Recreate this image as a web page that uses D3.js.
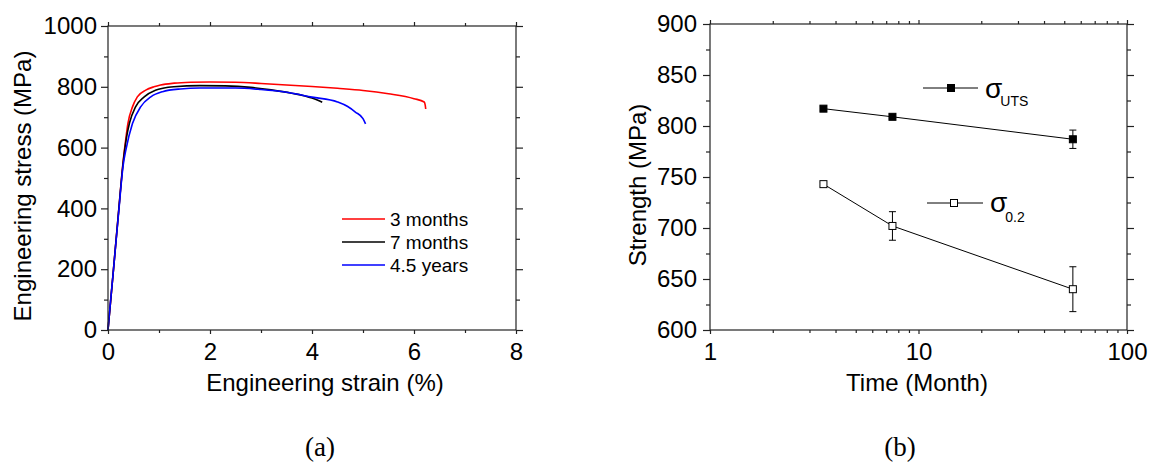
<!DOCTYPE html>
<html>
<head>
<meta charset="utf-8">
<script src="https://cdn.jsdelivr.net/npm/d3@7"></script>
<style>
body { margin: 0; background: #fff; }
text { font-family: "Liberation Sans", Arial, sans-serif; fill: #000; }
</style>
</head>
<body>
<svg id="chart" width="1152" height="470"></svg>
<script>
// (a) stress-strain curves, [strain %, stress MPa]
var curve3Months = [[0, 0], [0.1, 185], [0.2, 375], [0.3, 560], [0.35, 630], [0.39, 679], [0.48, 734],
    [0.575, 767], [0.74, 789], [0.9, 800], [1.03, 806], [1.3, 812], [1.62, 815], [2.0, 816], [2.5, 815],
    [3.0, 811], [3.5, 806], [4.0, 801], [4.5, 795], [5.0, 788], [5.5, 777], [6.0, 761], [6.2, 750],
    [6.22, 740], [6.23, 727]];
var curve7Months = [[0, 0], [0.1, 185], [0.2, 375], [0.3, 555], [0.36, 630], [0.42, 680], [0.54, 734],
    [0.71, 767], [0.93, 789], [1.1, 796], [1.29, 800], [1.8, 804], [2.3, 803], [2.8, 798], [3.2, 790],
    [3.6, 779], [4.0, 763], [4.15, 753], [4.2, 749]];
var curve45Years = [[0, 0], [0.05, 95], [0.1, 185], [0.2, 370], [0.3, 545], [0.35, 592], [0.48, 679],
    [0.64, 734], [0.84, 767], [1.07, 784], [1.42, 793], [1.8, 796], [2.5, 796], [3.0, 791], [3.5, 782],
    [4.0, 766], [4.5, 750], [4.7, 735], [4.85, 717], [5.0, 695], [5.05, 678]];
var curveNames = ["3 months", "7 months", "4.5 years"];
var curveColors = ["#ff0000", "#000000", "#0000ff"];

var strainTicks = [0, 2, 4, 6, 8];
var strainMinor = [1, 3, 5, 7];
var stressTicks = [0, 200, 400, 600, 800, 1000];
var stressMinor = [100, 300, 500, 700, 900];

// (b) strength vs time
var timeMonths = [3.5, 7.5, 55];
var utsValues = [817, 809, 787];
var utsErrors = [2, 2, 9];
var ysValues = [743, 702, 640];
var ysErrors = [2, 14, 22];

var timeTicks = [1, 10, 100];
var timeMinor = [2, 3, 4, 5, 6, 7, 8, 9, 20, 30, 40, 50, 60, 70, 80, 90];
var strengthTicks = [600, 650, 700, 750, 800, 850, 900];
var strengthMinor = [625, 675, 725, 775, 825, 875];

var svg = d3.select("#chart");
var axisColor = "#222";

function drawAxes(g, x, y, xMajor, xMinor, yMajor, yMinor, yGap) {
    var w = x.range()[1] - x.range()[0];
    var h = y.range()[0] - y.range()[1];

    var sides = [
        { axis: d3.axisBottom, scale: x, major: xMajor, minor: xMinor, len: 4, mlen: 3, pos: "translate(0," + h + ")", label: true, pad: 9 },
        { axis: d3.axisTop, scale: x, major: xMajor, minor: xMinor, len: 4, mlen: 3, pos: "translate(0,0)", label: false },
        { axis: d3.axisLeft, scale: y, major: yMajor, minor: yMinor, len: 7, mlen: 4, pos: "translate(0,0)", label: true, pad: yGap - 7 },
        { axis: d3.axisRight, scale: y, major: yMajor, minor: yMinor, len: 7, mlen: 4, pos: "translate(" + w + ",0)", label: false }
    ];

    sides.forEach(function (s) {
        var major = s.axis(s.scale).tickValues(s.major).tickSize(s.len).tickSizeOuter(0);
        if (s.label) {
            major.tickPadding(s.pad).tickFormat(d3.format("d"));
        } else {
            major.tickFormat("");
        }
        var ga = g.append("g").attr("transform", s.pos).call(major);
        ga.select(".domain").remove();
        ga.selectAll("line").attr("stroke", axisColor).attr("stroke-width", 1.2);
        ga.selectAll("text")
            .style("font-family", "'Liberation Sans', Arial, sans-serif")
            .style("font-size", "24px")
            .attr("fill", "#000");

        var minor = s.axis(s.scale).tickValues(s.minor).tickSize(s.mlen).tickSizeOuter(0).tickFormat("");
        var gm = g.append("g").attr("transform", s.pos).call(minor);
        gm.select(".domain").remove();
        gm.selectAll("line").attr("stroke", axisColor).attr("stroke-width", 1.2);
    });

    g.append("rect")
        .attr("x", 0)
        .attr("y", 0)
        .attr("width", w)
        .attr("height", h)
        .attr("fill", "none")
        .attr("stroke", axisColor)
        .attr("stroke-width", 1.2);
}

// ---------- panel (a) ----------
var aLeft = 108, aTop = 26, aW = 408, aH = 304;
var ga = svg.append("g").attr("transform", "translate(" + aLeft + "," + aTop + ")");

var xA = d3.scaleLinear().domain([0, 8]).range([0, aW]);
var yA = d3.scaleLinear().domain([0, 1000]).range([aH, 0]);

var line = d3.line()
    .x(function (d) { return xA(d[0]); })
    .y(function (d) { return yA(d[1]); })
    .curve(d3.curveMonotoneX);

[curve3Months, curve7Months, curve45Years].forEach(function (c, i) {
    ga.append("path")
        .attr("d", line(c))
        .attr("fill", "none")
        .attr("stroke", curveColors[i])
        .attr("stroke-width", 1.6);
});

drawAxes(ga, xA, yA, strainTicks, strainMinor, stressTicks, stressMinor, 11);

var legA = ga.selectAll(".legA")
    .data(curveNames)
    .enter()
    .append("g")
    .attr("class", "legA")
    .attr("transform", function (d, i) { return "translate(" + (342 - aLeft) + "," + (219 - aTop + i * 23) + ")"; });

legA.append("line")
    .attr("x1", 0).attr("x2", 43)
    .attr("y1", 0).attr("y2", 0)
    .attr("stroke", function (d, i) { return curveColors[i]; })
    .attr("stroke-width", 1.6);

legA.append("text")
    .attr("x", 48)
    .attr("y", 0)
    .attr("dy", "0.35em")
    .style("font-size", "19px")
    .text(function (d) { return d; });

svg.append("text")
    .attr("x", 325)
    .attr("y", 391)
    .attr("text-anchor", "middle")
    .style("font-size", "24px")
    .text("Engineering strain (%)");

svg.append("text")
    .attr("transform", "translate(31,186) rotate(-90)")
    .attr("text-anchor", "middle")
    .style("font-size", "24px")
    .text("Engineering stress (MPa)");

svg.append("text")
    .attr("x", 320)
    .attr("y", 456)
    .attr("text-anchor", "middle")
    .style("font-family", "'Liberation Serif', 'Times New Roman', serif")
    .style("font-size", "27px")
    .text("(a)");

// ---------- panel (b) ----------
var bLeft = 710, bTop = 24, bW = 417, bH = 306;
var gb = svg.append("g").attr("transform", "translate(" + bLeft + "," + bTop + ")");

var xB = d3.scaleLog().domain([1, 100]).range([0, bW]);
var yB = d3.scaleLinear().domain([600, 900]).range([bH, 0]);

function drawSeries(values, errors, filled) {
    var pts = timeMonths.map(function (t, i) { return { t: t, v: values[i], e: errors[i] }; });

    gb.append("path")
        .attr("d", d3.line()
            .x(function (d) { return xB(d.t); })
            .y(function (d) { return yB(d.v); })(pts))
        .attr("fill", "none")
        .attr("stroke", "#000")
        .attr("stroke-width", 1);

    var eb = gb.selectAll(null).data(pts).enter().append("g");
    eb.append("line")
        .attr("x1", function (d) { return xB(d.t); })
        .attr("x2", function (d) { return xB(d.t); })
        .attr("y1", function (d) { return yB(d.v - d.e); })
        .attr("y2", function (d) { return yB(d.v + d.e); })
        .attr("stroke", "#000");
    [-1, 1].forEach(function (sgn) {
        eb.append("line")
            .attr("x1", function (d) { return xB(d.t) - 3.5; })
            .attr("x2", function (d) { return xB(d.t) + 3.5; })
            .attr("y1", function (d) { return yB(d.v + sgn * d.e); })
            .attr("y2", function (d) { return yB(d.v + sgn * d.e); })
            .attr("stroke", "#000");
    });

    gb.selectAll(null).data(pts).enter().append("rect")
        .attr("x", function (d) { return xB(d.t) - 3.5; })
        .attr("y", function (d) { return yB(d.v) - 3.5; })
        .attr("width", 7)
        .attr("height", 7)
        .attr("fill", filled ? "#000" : "#fff")
        .attr("stroke", "#000")
        .attr("stroke-width", 1);
}

drawSeries(utsValues, utsErrors, true);
drawSeries(ysValues, ysErrors, false);

drawAxes(gb, xB, yB, timeTicks, timeMinor, strengthTicks, strengthMinor, 13);

// legend (b)
function legendItem(x1, x2, xm, y, filled, tx, ty, sub, subDy) {
    svg.append("line")
        .attr("x1", x1).attr("x2", x2)
        .attr("y1", y).attr("y2", y)
        .attr("stroke", "#000");
    svg.append("rect")
        .attr("x", xm - 3.5).attr("y", y - 3.5)
        .attr("width", 7).attr("height", 7)
        .attr("fill", filled ? "#000" : "#fff")
        .attr("stroke", "#000");
    var t = svg.append("text")
        .attr("x", tx)
        .attr("y", ty)
        .style("font-size", "28px")
        .text("σ");
    t.append("tspan")
        .attr("dy", subDy)
        .attr("dx", -2)
        .style("font-size", "14px")
        .text(sub);
}

legendItem(923, 978, 951, 88, true, 985, 98, "UTS", 8);
legendItem(927, 983, 954, 203, false, 990, 212, "0.2", 10);

svg.append("text")
    .attr("x", 917)
    .attr("y", 391)
    .attr("text-anchor", "middle")
    .style("font-size", "24px")
    .text("Time (Month)");

svg.append("text")
    .attr("transform", "translate(646,185) rotate(-90)")
    .attr("text-anchor", "middle")
    .style("font-size", "24px")
    .text("Strength (MPa)");

svg.append("text")
    .attr("x", 900)
    .attr("y", 456)
    .attr("text-anchor", "middle")
    .style("font-family", "'Liberation Serif', 'Times New Roman', serif")
    .style("font-size", "27px")
    .text("(b)");
</script>
</body>
</html>
